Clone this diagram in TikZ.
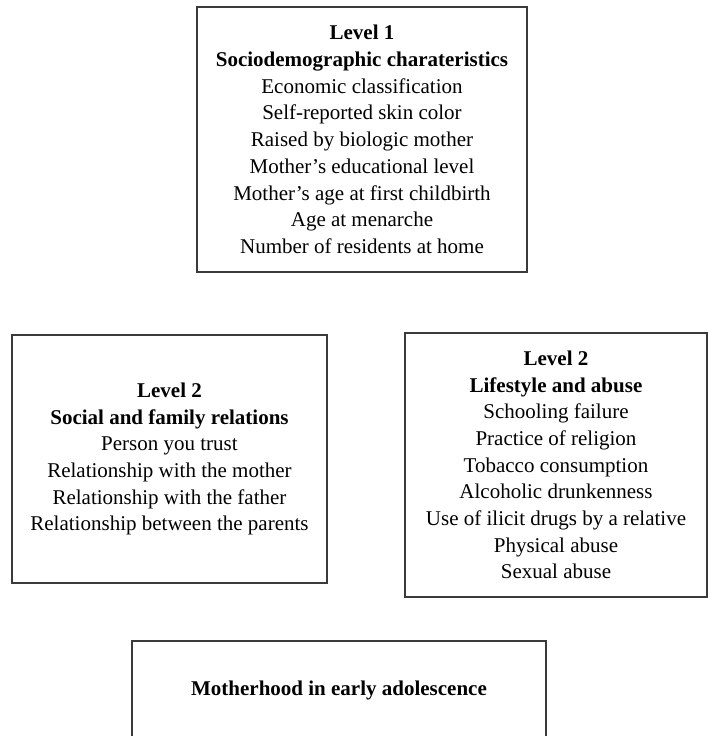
\documentclass[tikz,border=0pt]{standalone}
\usepackage{fontspec}
\setmainfont{Liberation Serif}
\usepackage{xcolor}
\definecolor{frame}{HTML}{3A3A3A}
\tikzset{
  box/.style={draw=frame, line width=0.6pt, align=center, inner sep=0pt,
    font=\fontsize{10.5}{13.35}\selectfont},
  lvl/.style={font=\bfseries}
}

\begin{document}
\begin{tikzpicture}[x=0.5pt,y=-0.5pt]
  \useasboundingbox (0,0) rectangle (708,736);
  \clip (0,0) rectangle (708,736);

  % level 1
  \node[box, minimum width=165pt, minimum height=132.5pt] (lvlone) at (362,139.5)
    {\textbf{Level 1}\\
     \textbf{Sociodemographic charateristics}\\
     Economic classification\\
     Self-reported skin color\\
     Raised by biologic mother\\
     Mother's educational level\\
     Mother's age at first childbirth\\
     Age at menarche\\
     Number of residents at home};

  % level 2
  \node[box, minimum width=157.5pt, minimum height=124pt] (social) at (169.5,459)
    {\textbf{Level 2}\\
     \textbf{Social and family relations}\\
     Person you trust\\
     Relationship with the mother\\
     Relationship with the father\\
     Relationship between the parents};
  \node[box, minimum width=151pt, minimum height=132pt] (lifestyle) at (556,465)
    {\textbf{Level 2}\\
     \textbf{Lifestyle and abuse}\\
     Schooling failure\\
     Practice of religion\\
     Tobacco consumption\\
     Alcoholic drunkenness\\
     Use of ilicit drugs by a relative\\
     Physical abuse\\
     Sexual abuse};

  % outcome
  \node[box, minimum width=207pt, minimum height=49pt] (outcome) at (339,690)
    {\textbf{Motherhood in early adolescence}};
\end{tikzpicture}
\end{document}
